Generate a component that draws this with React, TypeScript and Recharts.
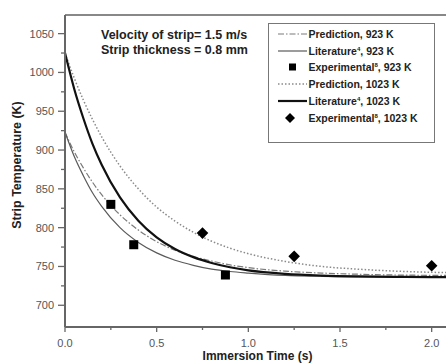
import {
  ComposedChart,
  Line,
  Scatter,
  XAxis,
  YAxis,
  ReferenceLine,
  Legend,
  Label,
} from "recharts";

// curve samples (time in s, temperature in K)
const TIMES = [0, 0.05, 0.1, 0.15, 0.2, 0.3, 0.4, 0.5, 0.6, 0.7, 0.8, 0.9, 1.0, 1.2, 1.4, 1.6, 1.8, 2.0, 2.1];
const PRED_923 = [923, 898, 877, 858.5, 842.5, 816.5, 797, 782, 771, 763, 757, 752, 748.5, 744, 741.5, 740, 739, 738.6, 738.5];
const LIT_923 = [923, 892, 867, 845, 827.5, 800, 781, 767.5, 758, 751.5, 746.5, 743.5, 741.5, 738.5, 737.3, 736.6, 736.3, 736.1, 736];
const PRED_1023 = [1025, 993, 964.5, 939.5, 917, 879.5, 850, 826.5, 808.5, 794, 782.5, 773.5, 766.5, 756.5, 750, 746.5, 744, 742.5, 742];
const LIT_1023 = [1025, 979, 941, 908, 881, 839, 809, 787.5, 772.5, 762, 754.5, 749, 745, 740.5, 738.3, 737.2, 736.6, 736.3, 736.2];

// experimental points
const EXP_923_T = [0.25, 0.375, 0.875];
const EXP_923_V = [830, 778, 739];
const EXP_1023_T = [0.75, 1.25, 2.0];
const EXP_1023_V = [793, 763, 751];

const X_TICKS = [0, 0.25, 0.5, 0.75, 1.0, 1.25, 1.5, 1.75, 2.0];
const Y_TICKS = [700, 725, 750, 775, 800, 825, 850, 875, 900, 925, 950, 975, 1000, 1025, 1050];
const X_DOMAIN: [number, number] = [0, 2.1];
const Y_DOMAIN: [number, number] = [672, 1074];

const curves = TIMES.map((t, i) => ({
  t,
  pred923: PRED_923[i],
  lit923: LIT_923[i],
  pred1023: PRED_1023[i],
  lit1023: LIT_1023[i],
}));
const exp923 = EXP_923_T.map((t, i) => ({ t, v: EXP_923_V[i] }));
const exp1023 = EXP_1023_T.map((t, i) => ({ t, v: EXP_1023_V[i] }));

const FONT = "'Liberation Sans', Arial, sans-serif";
const AXIS = "#666";
const TEXT = "#222";

const STYLES = {
  pred923: { stroke: "#7a7a7a", width: 1.2, dash: "6 2 1.5 2" },
  lit923: { stroke: "#5a5a5a", width: 1.2, dash: undefined },
  pred1023: { stroke: "#8a8a8a", width: 1.5, dash: "1.5 2" },
  lit1023: { stroke: "#111", width: 2.2, dash: undefined },
};

const LEGEND_ITEMS = [
  { key: "pred923", name: "Prediction", sup: "", temp: "923 K" },
  { key: "lit923", name: "Literature", sup: "4", temp: "923 K" },
  { key: "exp923", name: "Experimental", sup: "8", temp: "923 K" },
  { key: "pred1023", name: "Prediction", sup: "", temp: "1023 K" },
  { key: "lit1023", name: "Literature", sup: "4", temp: "1023 K" },
  { key: "exp1023", name: "Experimental", sup: "8", temp: "1023 K" },
];

function Square(props: any) {
  const { cx, cy } = props;
  return <rect x={cx - 4.5} y={cy - 4.5} width={9} height={9} fill="#000" />;
}

function Diamond(props: any) {
  const { cx, cy } = props;
  const r = 5.8;
  return <polygon points={`${cx},${cy - r} ${cx + r},${cy} ${cx},${cy + r} ${cx - r},${cy}`} fill="#000" />;
}

function YTick(props: any) {
  const { x, y, payload } = props;
  const major = payload.value % 50 === 0;
  return (
    <g>
      <line x1={x} x2={x - (major ? 7 : 4)} y1={y} y2={y} stroke={AXIS} strokeWidth={1.3} />
      {major && (
        <text x={x - 11} y={y} dy="0.36em" textAnchor="end" fontSize={11} fill="#555" fontFamily={FONT}>
          {payload.value}
        </text>
      )}
    </g>
  );
}

function XTick(props: any) {
  const { x, y, payload } = props;
  const major = Math.abs(payload.value * 2 - Math.round(payload.value * 2)) < 1e-6;
  return (
    <g>
      <line x1={x} x2={x} y1={y} y2={y + (major ? 5 : 3)} stroke={AXIS} strokeWidth={1.3} />
      {major && (
        <text x={x} y={y + 20} textAnchor="middle" fontSize={11} fill="#555" fontFamily={FONT}>
          {payload.value.toFixed(1)}
        </text>
      )}
    </g>
  );
}

function YTitle() {
  const cx = 17;
  const cy = 165;
  return (
    <text
      x={cx}
      y={cy}
      transform={`rotate(-90, ${cx}, ${cy})`}
      textAnchor="middle"
      dominantBaseline="central"
      fontSize={12.5}
      fontWeight="bold"
      fill={TEXT}
      fontFamily={FONT}
    >
      Strip Temperature (K)
    </text>
  );
}

function XTitle(props: any) {
  const vb = props.viewBox || { x: 65, width: 385 };
  return (
    <text
      x={vb.x + vb.width / 2}
      y={360}
      textAnchor="middle"
      fontSize={12}
      fontWeight="bold"
      fill={TEXT}
      fontFamily={FONT}
    >
      Immersion Time (s)
    </text>
  );
}

function LegendSample({ k }: { k: string }) {
  if (k === "exp923") {
    return (
      <svg width={30} height={12}>
        <rect x={11} y={2.5} width={7} height={7} fill="#000" />
      </svg>
    );
  }
  if (k === "exp1023") {
    return (
      <svg width={30} height={12}>
        <polygon points="12,1 17,6 12,11 7,6" fill="#000" />
      </svg>
    );
  }
  const s = (STYLES as any)[k];
  return (
    <svg width={30} height={12}>
      <line x1={0} x2={29} y1={6} y2={6} stroke={s.stroke} strokeWidth={s.width} strokeDasharray={s.dash} />
    </svg>
  );
}

function LegendBox() {
  return (
    <div
      style={{
        width: 167,
        height: 120,
        boxSizing: "border-box",
        border: "1.5px solid #777",
        paddingTop: 1.5,
        background: "#fff",
        fontFamily: FONT,
      }}
    >
      {LEGEND_ITEMS.map((it) => (
        <div key={it.key} style={{ display: "flex", alignItems: "center", height: 16.8, paddingLeft: 8.5 }}>
          <LegendSample k={it.key} />
          <span style={{ fontSize: 10.5, fontWeight: "bold", color: TEXT, whiteSpace: "nowrap", marginLeft: 1 }}>
            {it.name}
            {it.sup && <sup style={{ fontSize: 6, verticalAlign: "top", lineHeight: "8px" }}>{it.sup}</sup>}
            , {it.temp}
          </span>
        </div>
      ))}
    </div>
  );
}

export default function App() {
  return (
    <div
      style={{
        position: "fixed",
        left: 0,
        top: 0,
        width: 446,
        height: 364,
        overflow: "hidden",
        background: "#fff",
        fontFamily: FONT,
      }}
    >
      <ComposedChart
        width={453}
        height={364}
        data={curves}
        margin={{ top: 15, right: 3, bottom: 0, left: 0 }}
      >
        <XAxis
          dataKey="t"
          type="number"
          domain={X_DOMAIN}
          ticks={X_TICKS}
          interval={0}
          allowDataOverflow
          axisLine={{ stroke: AXIS, strokeWidth: 2 }}
          tickLine={false}
          tickSize={0}
          tickMargin={0}
          tick={<XTick />}
          height={37}
        >
          <Label content={<XTitle />} />
        </XAxis>
        <YAxis
          type="number"
          domain={Y_DOMAIN}
          ticks={Y_TICKS}
          interval={0}
          allowDataOverflow
          axisLine={{ stroke: AXIS, strokeWidth: 2 }}
          tickLine={false}
          tickSize={0}
          tickMargin={0}
          tick={<YTick />}
          width={65}
        >
          <Label content={<YTitle />} />
        </YAxis>
        <ReferenceLine y={Y_DOMAIN[1]} stroke="#888" strokeWidth={2} />
        <Legend
          layout="vertical"
          align="center"
          verticalAlign="middle"
          content={<LegendBox />}
          wrapperStyle={{ left: 268, top: 23, width: 167, height: 120 }}
        />
        <Line
          type="monotone"
          dataKey="pred1023"
          stroke={STYLES.pred1023.stroke}
          strokeWidth={STYLES.pred1023.width}
          strokeDasharray={STYLES.pred1023.dash}
          dot={false}
          isAnimationActive={false}
        />
        <Line
          type="monotone"
          dataKey="pred923"
          stroke={STYLES.pred923.stroke}
          strokeWidth={STYLES.pred923.width}
          strokeDasharray={STYLES.pred923.dash}
          dot={false}
          isAnimationActive={false}
        />
        <Line
          type="monotone"
          dataKey="lit923"
          stroke={STYLES.lit923.stroke}
          strokeWidth={STYLES.lit923.width}
          dot={false}
          isAnimationActive={false}
        />
        <Line
          type="monotone"
          dataKey="lit1023"
          stroke={STYLES.lit1023.stroke}
          strokeWidth={STYLES.lit1023.width}
          dot={false}
          isAnimationActive={false}
        />
        <Scatter data={exp923} dataKey="v" shape={<Square />} isAnimationActive={false} />
        <Scatter data={exp1023} dataKey="v" shape={<Diamond />} isAnimationActive={false} />
      </ComposedChart>
      <div
        style={{
          position: "absolute",
          left: 101,
          top: 28,
          fontSize: 12.5,
          fontWeight: "bold",
          lineHeight: "15px",
          color: TEXT,
          whiteSpace: "nowrap",
        }}
      >
        <div>Velocity of strip= 1.5 m/s</div>
        <div>Strip thickness = 0.8 mm</div>
      </div>
    </div>
  );
}
